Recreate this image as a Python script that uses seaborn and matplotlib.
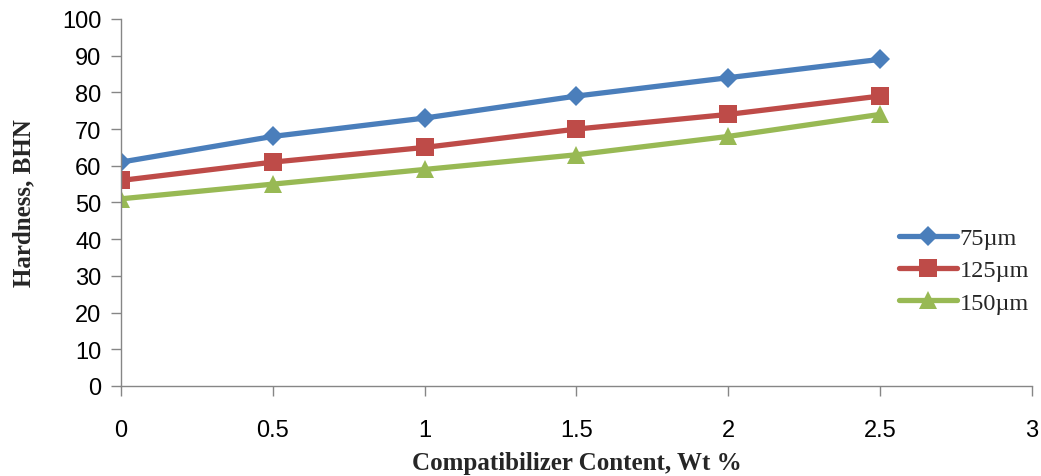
import pandas as pd
import matplotlib.pyplot as plt
import seaborn as sns

sns.set_theme(style="white")

# Dados
content = [0, 0.5, 1, 1.5, 2, 2.5]
series_names = ['75µm', '125µm', '150µm']
hard_75 = [61, 68, 73, 79, 84, 89]
hard_125 = [56, 61, 65, 70, 74, 79]
hard_150 = [51, 55, 59, 63, 68, 74]

df = pd.DataFrame({
    'content': content * 3,
    'hardness': hard_75 + hard_125 + hard_150,
    'size': [s for s in series_names for _ in content],
})

palette = {'75µm': '#4A7EBB', '125µm': '#BE4B48', '150µm': '#98B954'}
markers = {'75µm': 'D', '125µm': 's', '150µm': '^'}
msize = {'75µm': 10, '125µm': 13, '150µm': 13}

fig = plt.figure(figsize=(10.41, 4.77), dpi=100)
ax = fig.add_axes([0.1162, 0.1887, 0.875, 0.7694])

for name in series_names:
    sub = df[df['size'] == name]
    sns.lineplot(data=sub, x='content', y='hardness', ax=ax, color=palette[name],
                 marker=markers[name], markersize=msize[name], linewidth=3.8,
                 markeredgewidth=0, label=name)

ax.set_xlim(0, 3)
ax.set_ylim(0, 100)
ax.set_xticks([0, 0.5, 1, 1.5, 2, 2.5, 3])
ax.set_xticklabels(['0', '0.5', '1', '1.5', '2', '2.5', '3'])
ax.set_yticks(range(0, 101, 10))

for s in ['top', 'right']:
    ax.spines[s].set_visible(False)
for s in ['left', 'bottom']:
    ax.spines[s].set_color('#868686')
    ax.spines[s].set_linewidth(1)
ax.tick_params(axis='both', direction='out', length=7, color='#868686', width=1,
               labelsize=17, labelcolor='black', bottom=True, left=True)
ax.tick_params(axis='x', pad=17)
ax.tick_params(axis='y', pad=7)
for lbl in ax.get_xticklabels() + ax.get_yticklabels():
    lbl.set_family('Liberation Sans')

ax.set_xlabel('Compatibilizer Content, Wt %', fontsize=18, fontweight='bold',
              family='Liberation Serif', labelpad=7)
ax.set_ylabel('Hardness, BHN', fontsize=18, fontweight='bold',
              family='Liberation Serif', labelpad=19)

leg = ax.legend(loc='center left', bbox_to_anchor=(0.83, 0.315), frameon=False,
                prop={'family': 'Liberation Serif', 'size': 17.5}, handlelength=2.4,
                handletextpad=0.1, labelspacing=0.42)

fig.savefig('out.png', dpi=100)
